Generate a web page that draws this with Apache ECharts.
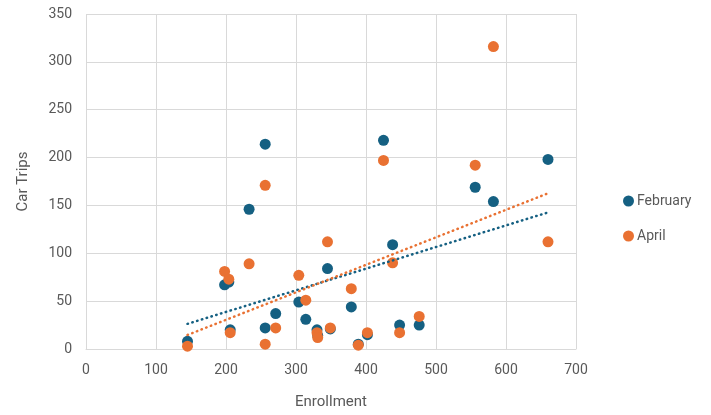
<!DOCTYPE html>
<html>
<head>
<meta charset="utf-8">
<script src="https://cdn.jsdelivr.net/npm/echarts@6/dist/echarts.min.js"></script>
<style>html,body{margin:0;padding:0;background:#fff;}#c{width:711px;height:415px;}</style>
</head>
<body>
<div id="c"></div>
<script>
const enrollment = [145,198,204,206,233,256,256,271,304,314,330,331,345,349,379,389,402,425,438,448,476,556,582,660];
const febTrips   = [8,67,70,20,146,214,22,37,49,31,20,14,84,21,44,5,15,218,109,25,25,169,154,198];
const aprTrips   = [3,81,73,17,89,171,5,22,77,51,17,12,112,22,63,4,17,197,90,17,34,192,316,112];
const seriesNames = ['February','April'];
const colors = ['#156082','#E97132'];

function pairs(xs, ys){ return xs.map((x,i)=>[x, ys[i]]); }
function trend(xs, ys){
  const n = xs.length;
  const mx = xs.reduce((a,b)=>a+b,0)/n, my = ys.reduce((a,b)=>a+b,0)/n;
  let sxy=0, sxx=0;
  for(let i=0;i<n;i++){ sxy+=(xs[i]-mx)*(ys[i]-my); sxx+=(xs[i]-mx)*(xs[i]-mx); }
  const b = sxy/sxx, a = my - b*mx;
  const x0 = Math.min(...xs), x1 = Math.max(...xs);
  return [[x0, a+b*x0],[x1, a+b*x1]];
}
const font = 'Roboto, "Liberation Sans", sans-serif';
const chart = echarts.init(document.getElementById('c'), null, {renderer:'canvas'});
chart.setOption({
  animation:false,
  textStyle:{fontFamily:font},
  grid:{left:86, right:135, top:14, bottom:65},
  legend:{
    data:seriesNames, orient:'vertical', left:618, top:189, itemGap:21,
    icon:'circle', itemWidth:11, itemHeight:11,
    textStyle:{fontSize:14, color:'#595959', fontFamily:font, padding:[0,0,0,-2]}
  },
  xAxis:{
    type:'value', min:0, max:700, interval:100,
    name:'Enrollment', nameLocation:'middle', nameGap:46,
    nameTextStyle:{fontSize:15, color:'#595959'},
    axisLine:{show:true, lineStyle:{color:'#d9d9d9'}},
    axisTick:{show:false},
    axisLabel:{fontSize:14, color:'#595959', margin:14},
    splitLine:{show:true, lineStyle:{color:'#d9d9d9'}}
  },
  yAxis:{
    type:'value', min:0, max:350, interval:50,
    name:'Car Trips', nameLocation:'middle', nameGap:55, nameRotate:90,
    nameTextStyle:{fontSize:15, color:'#595959'},
    axisLine:{show:false}, axisTick:{show:false},
    axisLabel:{fontSize:14, color:'#595959', margin:14},
    splitLine:{show:true, lineStyle:{color:'#d9d9d9'}}
  },
  series:[
    {name:seriesNames[0], type:'scatter', symbolSize:11, itemStyle:{color:colors[0], opacity:1}, data:pairs(enrollment,febTrips), z:3},
    {name:seriesNames[1], type:'scatter', symbolSize:11, itemStyle:{color:colors[1], opacity:1}, data:pairs(enrollment,aprTrips), z:4},
    {name:'Linear (February)', type:'line', symbol:'none', silent:true, data:trend(enrollment,febTrips),
     lineStyle:{color:colors[0], width:2.5, type:[0.5,4.5], cap:'round'}, z:5},
    {name:'Linear (April)', type:'line', symbol:'none', silent:true, data:trend(enrollment,aprTrips),
     lineStyle:{color:colors[1], width:2.5, type:[0.5,4.5], cap:'round'}, z:5}
  ]
});
</script>
</body>
</html>
